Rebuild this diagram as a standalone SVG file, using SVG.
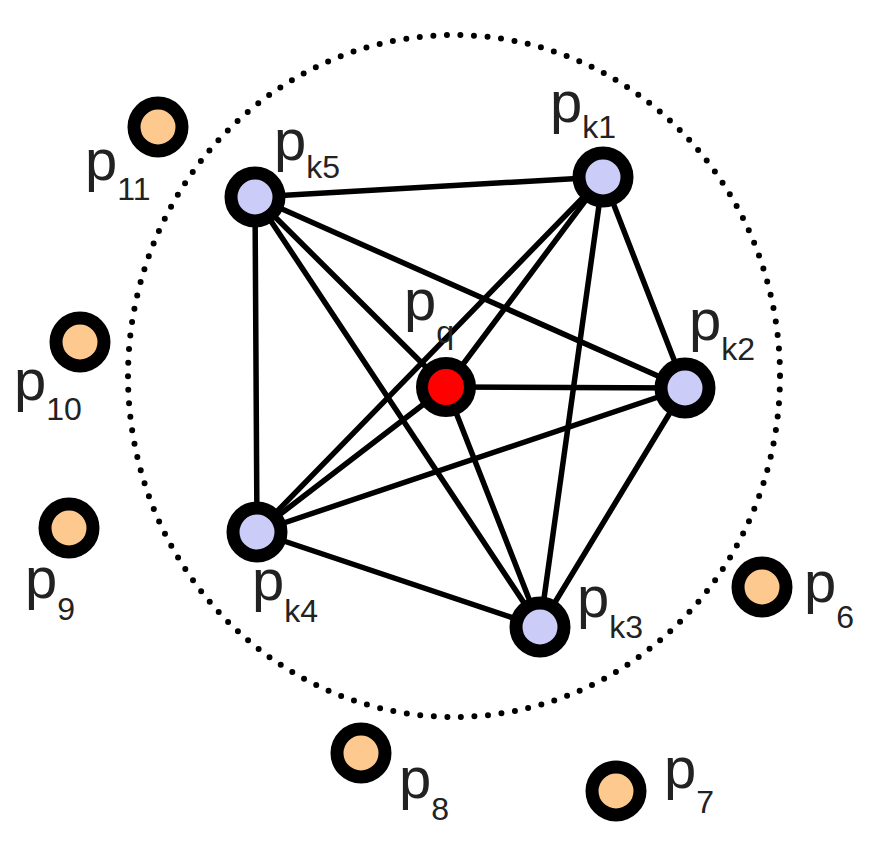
<svg xmlns="http://www.w3.org/2000/svg" width="880" height="855" viewBox="0 0 880 855">
<style>
.bg{fill:#ffffff}
.ring{fill:none;stroke:#000;stroke-width:6;stroke-linecap:round;stroke-dasharray:0 13.6}
.edge{stroke:#000;stroke-width:5.5;stroke-linecap:round}
.nd{stroke:#000;stroke-width:13}
.k{fill:#ccccf8}
.o{fill:#fdc98f}
.q{fill:#ff0000;stroke:#000;stroke-width:12}
.lb{font-family:"Liberation Sans",Arial,sans-serif;font-size:58px;fill:#222}
.sb{font-size:32px}
</style>
<rect class="bg" x="0" y="0" width="880" height="855"/>
<ellipse class="ring" cx="454" cy="376" rx="326" ry="341"/>
<g id="connectors">
<line class="edge" x1="255" y1="197" x2="603" y2="177"/>
<line class="edge" x1="255" y1="197" x2="685" y2="388"/>
<line class="edge" x1="255" y1="197" x2="446" y2="387"/>
<line class="edge" x1="255" y1="197" x2="540" y2="627"/>
<line class="edge" x1="255" y1="197" x2="257" y2="532"/>
<line class="edge" x1="603" y1="177" x2="685" y2="388"/>
<line class="edge" x1="603" y1="177" x2="446" y2="387"/>
<line class="edge" x1="603" y1="177" x2="540" y2="627"/>
<line class="edge" x1="603" y1="177" x2="257" y2="532"/>
<line class="edge" x1="685" y1="388" x2="446" y2="387"/>
<line class="edge" x1="685" y1="388" x2="540" y2="627"/>
<line class="edge" x1="685" y1="388" x2="257" y2="532"/>
<line class="edge" x1="446" y1="387" x2="540" y2="627"/>
<line class="edge" x1="446" y1="387" x2="257" y2="532"/>
<line class="edge" x1="540" y1="627" x2="257" y2="532"/>
</g>
<g id="pk1"><circle class="nd k" cx="603" cy="177" r="24"/><text class="lb" x="550" y="122">p<tspan class="sb" dy="16">k1</tspan></text></g>
<g id="pk2"><circle class="nd k" cx="685" cy="388" r="24"/><text class="lb" x="689" y="340">p<tspan class="sb" dy="20">k2</tspan></text></g>
<g id="pk3"><circle class="nd k" cx="540" cy="627" r="24"/><text class="lb" x="577" y="617">p<tspan class="sb" dy="21">k3</tspan></text></g>
<g id="pk4"><circle class="nd k" cx="257" cy="532" r="24"/><text class="lb" x="252" y="600">p<tspan class="sb" dy="22">k4</tspan></text></g>
<g id="pk5"><circle class="nd k" cx="255" cy="197" r="24"/><text class="lb" x="274" y="160">p<tspan class="sb" dy="18">k5</tspan></text></g>
<g id="pq"><circle class="q" cx="446" cy="387" r="24"/><text class="lb" x="404" y="320">p<tspan class="sb" dy="23">q</tspan></text></g>
<g id="p6"><circle class="nd o" cx="762" cy="587" r="24"/><text class="lb" x="804" y="602">p<tspan class="sb" dy="26">6</tspan></text></g>
<g id="p7"><circle class="nd o" cx="616" cy="791" r="24"/><text class="lb" x="664" y="788">p<tspan class="sb" dy="25">7</tspan></text></g>
<g id="p8"><circle class="nd o" cx="361" cy="753" r="24"/><text class="lb" x="399" y="798">p<tspan class="sb" dy="22">8</tspan></text></g>
<g id="p9"><circle class="nd o" cx="69" cy="528" r="24"/><text class="lb" x="25" y="598">p<tspan class="sb" dy="22">9</tspan></text></g>
<g id="p10"><circle class="nd o" cx="80" cy="342" r="24"/><text class="lb" x="14" y="400">p<tspan class="sb" dy="20">10</tspan></text></g>
<g id="p11"><circle class="nd o" cx="158" cy="127" r="24"/><text class="lb" x="85" y="180">p<tspan class="sb" dy="20">11</tspan></text></g>
</svg>
